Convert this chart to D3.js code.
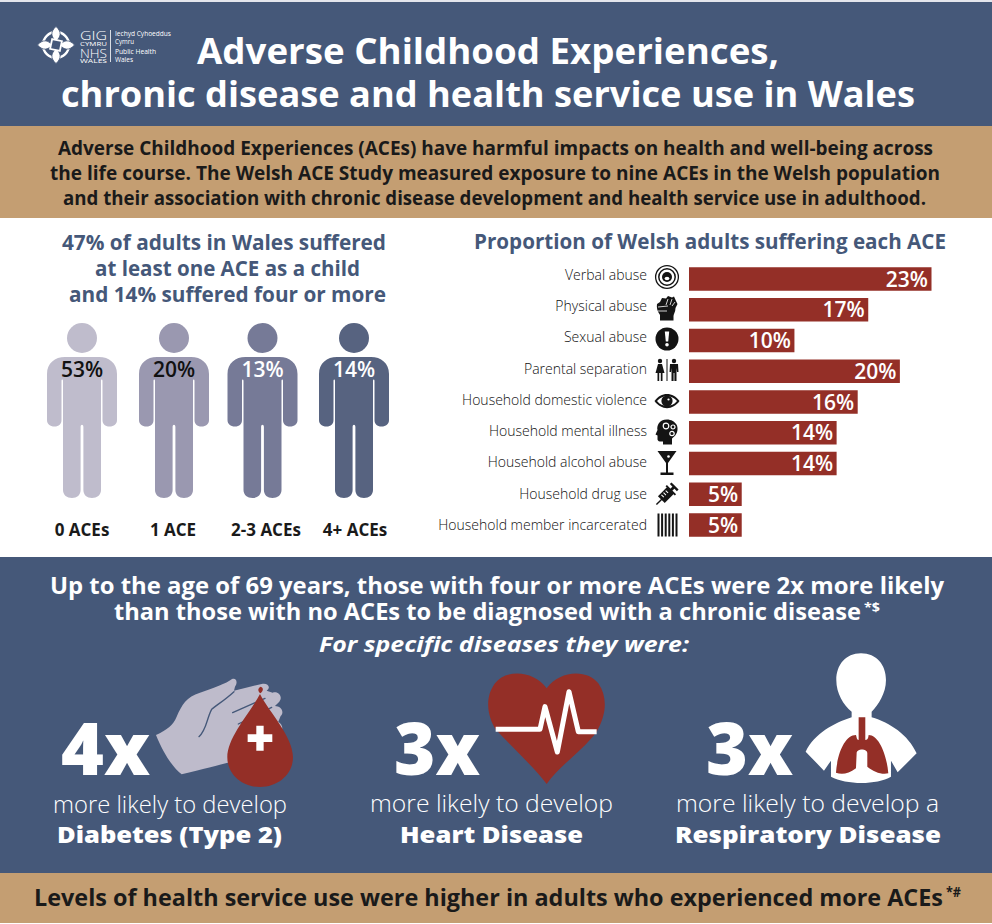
<!DOCTYPE html>
<html><head><meta charset="utf-8">
<script src="https://cdnjs.cloudflare.com/ajax/libs/d3/7.8.5/d3.min.js"></script>
<style>html,body{margin:0;padding:0;background:#fff}svg{display:block}text{font-family:"Open Sans",sans-serif}</style>
</head><body><svg id="c" width="992" height="924"></svg>
<script>
// ---- data ----
const aceCategories=["Verbal abuse","Physical abuse","Sexual abuse","Parental separation","Household domestic violence","Household mental illness","Household alcohol abuse","Household drug use","Household member incarcerated"];
const acePercent=[23,17,10,20,16,14,14,5,5];
const groupLabels=["0 ACEs","1 ACE","2-3 ACEs","4+ ACEs"];
const groupPercent=[53,20,13,14];
const multipliers=["4x","3x","3x"];
const diseases=["Diabetes (Type 2)","Heart Disease","Respiratory Disease"];
const likelyLines=["more likely to develop","more likely to develop","more likely to develop a"];

const BLUE="#455879",TAN="#C49E72",RED="#942F27",INK="#1a1a1a",SIL="#BEBBCB";
const svg=d3.select("#c");
function band(y0,y1,c){svg.append("rect").attr("x",0).attr("y",y0).attr("width",992).attr("height",y1-y0).attr("fill",c);}
band(0,924,"#fff");band(0,2,"#e3e5ec");band(2,126,BLUE);band(126,218,TAN);band(557,873,BLUE);band(873,923,TAN);

function line(s,x0,x1,y,size,weight,color,italic){
  const t=svg.append("text").attr("x",x0).attr("y",y).attr("font-size",size).attr("font-weight",weight).attr("fill",color).text(s);
  if(x1!=null)t.attr("textLength",x1-x0).attr("lengthAdjust","spacingAndGlyphs");
  if(italic)t.attr("font-style","italic");
  return t;
}
// header
line("Adverse Childhood Experiences,",197,779,64,36,700,"#fff");
line("chronic disease and health service use in Wales",61,915,107,36,700,"#fff");
line("Adverse Childhood Experiences (ACEs) have harmful impacts on health and well-being across",58,933,155,19,700,INK);
line("the life course. The Welsh ACE Study measured exposure to nine ACEs in the Welsh population",50,940,180,19,700,INK);
line("and their association with chronic disease development and health service use in adulthood.",63,926,205,19,700,INK);
// logo
const logo=svg.append("g").attr("transform","translate(56,45)");
logo.append("circle").attr("r",13).attr("fill","none").attr("stroke","#fff").attr("stroke-width",2.4);
[0,90,180,270].forEach(a=>{
  logo.append("path").attr("transform",`rotate(${a})`).attr("d","M0,-18.5 C6,-13 5,-8 0,-4 C-5,-8 -6,-13 0,-18.5Z").attr("fill","#fff").attr("stroke",BLUE).attr("stroke-width",.8);
});
logo.append("rect").attr("x",-5).attr("y",-5).attr("width",10).attr("height",10).attr("transform","rotate(12)").attr("fill",BLUE).attr("stroke","#fff").attr("stroke-width",1.8);
line("GIG",80,107,39.5,13,300,"#fff");
line("CYMRU",80,107,46,5.4,400,"#fff");
line("NHS",80,107,57.5,13.5,300,"#fff");
line("WALES",80,107,62.5,5.4,400,"#fff");
svg.append("line").attr("x1",110.5).attr("x2",110.5).attr("y1",30).attr("y2",62).attr("stroke","#fff").attr("stroke-width",.8);
line("Iechyd Cyhoeddus",115,171,36,7.2,400,"#fff");
line("Cymru",115,134,44,7.2,400,"#fff");
line("Public Health",115,156,54,7.2,400,"#fff");
line("Wales",115,133,62,7.2,400,"#fff");

// left panel
line("47% of adults in Wales suffered",62,386,250,21.5,700,BLUE);
line("at least one ACE as a child",95,360,276,21.5,700,BLUE);
line("and 14% suffered four or more",69,386,302,21.5,700,BLUE);
const px=d3.scaleOrdinal().domain(groupLabels).range([82,174,262.5,354]);
const lx=d3.scaleOrdinal().domain(groupLabels).range([82,173,266,355]);
const pColor=d3.scaleOrdinal().domain(groupLabels).range(["#BFBCCC","#9A98B0","#767A97","#576380"]);
const pText=d3.scaleOrdinal().domain(groupLabels).range(["#111","#111","#fff","#fff"]);
const bodyPath="M-35,374 C-35,363 -27,357 -17,357 L17,357 C27,357 35,363 35,374 L35,420 C35,424 32,426.5 27.5,426.5 C23,426.5 20.5,424 20.5,420 L20.5,381 C20.5,379 19,379 19,381 L19,490 C19,495 15,498 10,498 C5,498 1.4,495 1.4,490 L1.4,427 C1.4,424 -1.4,424 -1.4,427 L-1.4,490 C-1.4,495 -5,498 -10,498 C-15,498 -19,495 -19,490 L-19,381 C-19,379 -20.5,379 -20.5,381 L-20.5,420 C-20.5,424 -23,426.5 -27.5,426.5 C-32,426.5 -35,424 -35,420 Z";
const persons=svg.append("g").selectAll("g").data(groupLabels).join("g").attr("transform",d=>`translate(${px(d)},0)`);
persons.append("circle").attr("cy",338).attr("r",15).attr("fill",d=>pColor(d));
persons.append("path").attr("d",bodyPath).attr("fill",d=>pColor(d));
persons.append("text").attr("y",377).attr("text-anchor","middle").attr("font-size",21).attr("font-weight",600).attr("fill",d=>pText(d)).text((d,i)=>groupPercent[i]+"%");
svg.append("g").selectAll("text").data(groupLabels).join("text").attr("x",d=>lx(d)).attr("y",536).attr("text-anchor","middle").attr("font-size",17).attr("font-weight",700).attr("fill",INK).text(d=>d);

// right panel
line("Proportion of Welsh adults suffering each ACE",474,946,249,21.5,700,BLUE);
const x=d3.scaleLinear().domain([0,23]).range([689,931.5]);
const y=d3.scalePoint().domain(aceCategories).range([279,525]);
const yLab=d3.scalePoint().domain(aceCategories).range([275,525]);
const yIcon=d3.scalePoint().domain(aceCategories).range([277,525]);
const barH=23.5;
svg.append("g").selectAll("rect").data(aceCategories).join("rect").attr("x",x(0)).attr("y",d=>y(d)-barH/2).attr("height",barH).attr("width",(d,i)=>x(acePercent[i])-x(0)).attr("fill",RED);
svg.append("g").selectAll("text").data(aceCategories).join("text").attr("x",(d,i)=>x(acePercent[i])-3.5).attr("y",d=>y(d)+7.5).attr("text-anchor","end").attr("font-size",21).attr("font-weight",600).attr("fill","#fff").text((d,i)=>acePercent[i]+"%");
const ax=svg.append("g").attr("transform","translate(647,0)").call(d3.axisLeft(yLab).tickSize(0).tickPadding(0));
ax.select(".domain").remove();
ax.selectAll("text").attr("font-family",'"Open Sans",sans-serif').attr("font-size",14).attr("font-weight",300).attr("fill","#111");

// icons
const K="#141414";
const icons=[
 g=>{g.append("circle").attr("r",11.4).attr("fill","none").attr("stroke",K).attr("stroke-width",1.3);
     g.append("circle").attr("r",8.2).attr("fill","none").attr("stroke",K).attr("stroke-width",1.5);
     g.append("circle").attr("r",5).attr("fill",K);
     g.append("ellipse").attr("cy",1.5).attr("rx",2.4).attr("ry",1.8).attr("fill","#fff");},
 g=>{g.append("path").attr("fill",K).attr("d","M-7,12.5 L-7,7 C-10,3 -10.5,-1 -10,-4 L-7,-6 L-5,-10 L-1,-9.5 L1,-12 L5,-10.5 L7,-11.5 L9,-7 L10.5,-4 L8.5,0 C8.5,4 6.5,6 6.5,8 L6.5,12.5 Z");
     g.append("path").attr("fill","none").attr("stroke","#fff").attr("stroke-width",.8).attr("d","M-9,-1 L1,-2 M1,-9 L-1,-3 M5,-9 L3,-3 M8,-6 L5,-2 M-9,3 L0,3");},
 g=>{g.append("circle").attr("r",11.5).attr("fill",K);
     g.append("path").attr("fill","#fff").attr("d","M-2.2,-7.5 L2.2,-7.5 L1.2,2.5 L-1.2,2.5Z");
     g.append("circle").attr("cy",5.7).attr("r",1.8).attr("fill","#fff");},
 g=>{g.append("circle").attr("cx",-7).attr("cy",-9).attr("r",2.2).attr("fill",K);
     g.append("path").attr("fill",K).attr("d","M-9,-6 L-5,-6 L-2.5,3 L-4.5,3 L-4.5,11 L-6.2,11 L-6.2,3 L-7.8,3 L-7.8,11 L-9.5,11 L-9.5,3 L-11.5,3Z");
     g.append("rect").attr("x",-.5).attr("y",-11).attr("width",1).attr("height",22).attr("fill",K);
     g.append("circle").attr("cx",7).attr("cy",-9).attr("r",2.2).attr("fill",K);
     g.append("path").attr("fill",K).attr("d","M3,-6 L11,-6 L11.5,2 L10,2 L9.5,-2 L9.5,11 L7.4,11 L7.4,3 L6.6,3 L6.6,11 L4.5,11 L4.5,-2 L4,2 L2.5,2Z");},
 g=>{g.append("path").attr("fill",K).attr("d","M-12.5,0 C-6,-9.5 6,-9.5 12.5,0 C6,9.5 -6,9.5 -12.5,0Z");
     g.append("path").attr("fill","#fff").attr("d","M-10,0 C-5,-6.5 5,-6.5 10,0 C5,6.5 -5,6.5 -10,0Z");
     g.append("circle").attr("r",5.6).attr("fill",K);
     g.append("circle").attr("cx",1.5).attr("cy",-1.5).attr("r",1.1).attr("fill","#fff");},
 g=>{g.append("path").attr("fill",K).attr("d","M0,-12.5 C-8,-12.5 -10.5,-6 -9.5,-2 L-11.5,2.5 L-9.5,3.5 L-9.5,7.5 C-9,10 -6,9.5 -4,9.5 L-4,12.5 L5,12.5 L5,6.5 C10,3 11.5,-2 10,-6.5 C8,-10.5 4,-12.5 0,-12.5Z");
     [[-1,-6,2.8],[6,-5,2],[5,1.5,2.2]].forEach(c=>{g.append("circle").attr("cx",c[0]).attr("cy",c[1]).attr("r",c[2]).attr("fill","none").attr("stroke","#fff").attr("stroke-width",1.2);});},
 g=>{g.append("path").attr("fill",K).attr("d","M-9.5,-12 L9.5,-12 L1,0 L1,9.5 L6.5,9.5 L6.5,12 L-6.5,12 L-6.5,9.5 L-1,9.5 L-1,0Z");
     g.append("circle").attr("cx",1.5).attr("cy",-6.5).attr("r",1.3).attr("fill","#fff");},
 g=>{const s=g.append("g").attr("transform","rotate(-45)");
     s.append("rect").attr("x",-15).attr("y",-.7).attr("width",8).attr("height",1.4).attr("fill",K);
     s.append("rect").attr("x",-8).attr("y",-4.8).attr("width",13).attr("height",9.6).attr("fill",K);
     s.append("rect").attr("x",5).attr("y",-1.4).attr("width",5).attr("height",2.8).attr("fill",K);
     s.append("rect").attr("x",9).attr("y",-5).attr("width",2.4).attr("height",10).attr("fill",K);
     s.append("rect").attr("x",4.5).attr("y",-6.5).attr("width",1.8).attr("height",13).attr("fill",K);
     [-5,-2,1].forEach(t=>s.append("rect").attr("x",t).attr("y",-3.4).attr("width",1).attr("height",3.4).attr("fill","#fff"));},
 g=>{[-9.5,-5.9,-2.3,1.3,4.9,8.5].forEach(t=>g.append("rect").attr("x",t).attr("y",-11.5).attr("width",2).attr("height",23).attr("fill",K));}
];
aceCategories.forEach((d,i)=>{icons[i](svg.append("g").attr("transform",`translate(667,${yIcon(d)})`));});

// lower panel
line("Up to the age of 69 years, those with four or more ACEs were 2x more likely",50,944,594,23,700,"#fff");
line("than those with no ACEs to be diagnosed with a chronic disease",114,861,620,23,700,"#fff");
line("*$",864,880,612,13,700,"#fff");
line("For specific diseases they were:",319,689,652,22,700,"#fff",true);

const bigX=[61,394,706],bigEnd=[150,480,793],midX=[[53,287],[370,613],[676,939]],boldX=[[57,282],[400,583],[675,941]],midY=[813,812,812];
multipliers.forEach((m,i)=>{
  line(m,bigX[i],bigEnd[i],775,73,800,"#fff");
  line(likelyLines[i],midX[i][0],midX[i][1],midY[i],23.5,300,"#fff");
  line(diseases[i],boldX[i][0],boldX[i][1],843,23.5,800,"#fff");
});
// hand + drop
const h=svg.append("g").attr("transform","translate(30,650) scale(.3333)");
h.append("path").attr("fill",SIL).attr("d","M378,255 C410,240 430,225 440,200 C455,165 470,140 510,128 C550,115 590,100 605,88 C618,82 625,95 615,110 L612,122 L695,102 C712,97 725,112 710,122 L728,128 C745,122 760,140 748,155 L735,168 C752,168 765,185 752,198 L745,215 C760,225 760,240 750,250 L620,330 C590,340 530,355 455,373 C430,355 400,310 378,255Z");
h.append("path").attr("fill","none").attr("stroke",BLUE).attr("stroke-width",4).attr("stroke-linecap","round").attr("d","M608,188 L705,145 M625,222 L725,172 M507,260 C530,240 530,205 545,178 C560,165 585,150 612,125");
h.append("path").attr("fill",RED).attr("d","M690,132 C660,190 592,260 592,322 C592,372 635,411 690,411 C745,411 789,372 789,322 C789,260 720,190 690,132Z");
h.append("path").attr("fill","#fff").attr("d","M679,227 L701,227 L701,253 L727,253 L727,276 L701,276 L701,302 L679,302 L679,276 L653,276 L653,253 L679,253Z");
h.append("path").attr("fill",RED).attr("d","M692,110 C684,114 682,122 691,130 C700,122 702,114 692,110Z");
// heart
const ht=svg.append("g").attr("transform","translate(480,660) scale(.3333)");
ht.append("path").attr("fill",RED).attr("d","M200,372 C165,325 90,255 47,208 C20,165 15,110 45,70 C75,28 160,28 200,85 C240,28 325,28 355,70 C385,115 378,165 350,215 C310,270 235,320 200,372Z");
ht.append("path").attr("fill","none").attr("stroke","#fff").attr("stroke-width",15).attr("stroke-linejoin","round").attr("d","M47,208 L180,208 L195,140 L232,276 L267,95 L295,215 L350,215");
// bust + lungs
const b=svg.append("g").attr("transform","translate(600,640) scale(.3333)");
b.append("path").attr("fill","#fff").attr("d","M783,40 C830,40 858,75 858,120 C858,160 835,195 815,215 L815,232 C870,248 925,285 950,340 L893,397 L873,362 L873,410 C830,435 740,435 693,410 L693,362 L672,392 L617,335 C645,280 700,250 755,232 L755,215 C730,195 709,160 709,120 C709,75 737,40 783,40Z");
b.append("path").attr("fill",RED).attr("d","M776,232 L796,232 L796,300 C805,300 805,290 806,285 C835,285 860,340 865,400 C845,405 820,395 802,380 L802,340 C802,325 770,325 770,340 L768,385 C745,402 725,405 708,398 C712,340 735,285 768,285 C770,290 770,300 776,300Z");

line("Levels of health service use were higher in adults who experienced more ACEs",34,943,906,24,700,INK);
line("*#",946,961,897,14,700,INK);
</script></body></html>
